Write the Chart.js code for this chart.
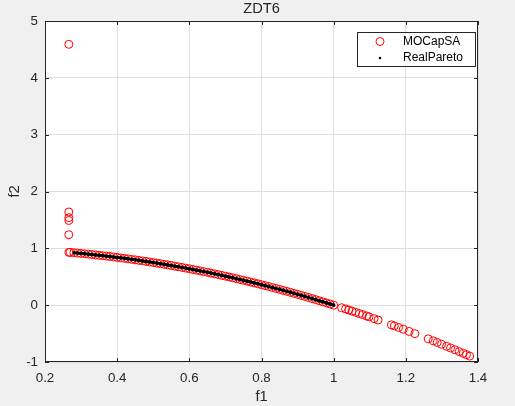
<!DOCTYPE html>
<html>
<head>
<meta charset="utf-8">
<script src="https://cdn.jsdelivr.net/npm/chart.js@4.4.1/dist/chart.umd.min.js"></script>
<style>
  html, body { margin: 0; padding: 0; background: #f0f0f0; }
  #wrap { width: 515px; height: 406px; }
</style>
</head>
<body>
<div id="wrap"><canvas id="myChart" width="515" height="406"></canvas></div>
<script>
// values

// MOCapSA : stragglers at the left edge
const outF1 = [0.266, 0.266, 0.266, 0.266, 0.266];
const outF2 = [4.59, 1.64, 1.54, 1.49, 1.24];

// MOCapSA : points sitting on the front
const frontF1 = [0.266, 0.27, 0.28, 0.29, 0.30, 0.31, 0.32, 0.33, 0.34, 0.35, 0.36, 0.37, 0.38, 0.39,
  0.40, 0.41, 0.42, 0.43, 0.44, 0.45, 0.46, 0.47, 0.48, 0.49, 0.50, 0.51, 0.52, 0.53, 0.54, 0.55,
  0.56, 0.57, 0.58, 0.59, 0.60, 0.61, 0.62, 0.63, 0.64, 0.65, 0.66, 0.67, 0.68, 0.69, 0.70, 0.71,
  0.72, 0.73, 0.74, 0.75, 0.76, 0.77, 0.78, 0.79, 0.80, 0.81, 0.82, 0.83, 0.84, 0.85, 0.86, 0.87,
  0.88, 0.89, 0.90, 0.91, 0.92, 0.93, 0.94, 0.95, 0.96, 0.97, 0.98, 0.99];
const frontF2 = [0.929, 0.927, 0.922, 0.916, 0.910, 0.904, 0.898, 0.891, 0.884, 0.878, 0.870, 0.863, 0.856, 0.848,
  0.840, 0.832, 0.824, 0.815, 0.806, 0.798, 0.788, 0.779, 0.770, 0.760, 0.750, 0.740, 0.730, 0.719, 0.708, 0.698,
  0.686, 0.675, 0.664, 0.652, 0.640, 0.628, 0.616, 0.603, 0.590, 0.578, 0.564, 0.551, 0.538, 0.524, 0.510, 0.496,
  0.482, 0.467, 0.452, 0.438, 0.422, 0.407, 0.392, 0.376, 0.360, 0.344, 0.328, 0.311, 0.294, 0.278, 0.260, 0.243,
  0.226, 0.208, 0.190, 0.172, 0.154, 0.135, 0.116, 0.098, 0.078, 0.059, 0.040, 0.020];

// MOCapSA : tail past f1 = 1
const tailF1 = [1.0, 1.022, 1.033, 1.042, 1.051, 1.061, 1.071, 1.080, 1.091, 1.098, 1.112, 1.123, 1.160, 1.168,
  1.180, 1.193, 1.209, 1.225, 1.262, 1.276, 1.287, 1.299, 1.313, 1.324, 1.336, 1.348, 1.359, 1.368, 1.377];
const tailF2 = [0.0, -0.045, -0.067, -0.086, -0.105, -0.126, -0.147, -0.166, -0.190, -0.206, -0.237, -0.261, -0.346, -0.364,
  -0.392, -0.423, -0.462, -0.501, -0.593, -0.628, -0.656, -0.687, -0.724, -0.753, -0.785, -0.817, -0.847, -0.871, -0.896];

// RealPareto
const paretoF1 = [0.281, 0.29, 0.30, 0.31, 0.32, 0.33, 0.34, 0.35, 0.36, 0.37, 0.38, 0.39,
  0.40, 0.41, 0.42, 0.43, 0.44, 0.45, 0.46, 0.47, 0.48, 0.49, 0.50, 0.51, 0.52, 0.53, 0.54, 0.55,
  0.56, 0.57, 0.58, 0.59, 0.60, 0.61, 0.62, 0.63, 0.64, 0.65, 0.66, 0.67, 0.68, 0.69, 0.70, 0.71,
  0.72, 0.73, 0.74, 0.75, 0.76, 0.77, 0.78, 0.79, 0.80, 0.81, 0.82, 0.83, 0.84, 0.85, 0.86, 0.87,
  0.88, 0.89, 0.90, 0.91, 0.92, 0.93, 0.94, 0.95, 0.96, 0.97, 0.98, 0.99, 1.0];
const paretoF2 = [0.921, 0.916, 0.910, 0.904, 0.898, 0.891, 0.884, 0.878, 0.870, 0.863, 0.856, 0.848,
  0.840, 0.832, 0.824, 0.815, 0.806, 0.798, 0.788, 0.779, 0.770, 0.760, 0.750, 0.740, 0.730, 0.719, 0.708, 0.698,
  0.686, 0.675, 0.664, 0.652, 0.640, 0.628, 0.616, 0.603, 0.590, 0.578, 0.564, 0.551, 0.538, 0.524, 0.510, 0.496,
  0.482, 0.467, 0.452, 0.438, 0.422, 0.407, 0.392, 0.376, 0.360, 0.344, 0.328, 0.311, 0.294, 0.278, 0.260, 0.243,
  0.226, 0.208, 0.190, 0.172, 0.154, 0.135, 0.116, 0.098, 0.078, 0.059, 0.040, 0.020, 0.0];

const xTicks = [0.2, 0.4, 0.6, 0.8, 1.0, 1.2, 1.4];
const yTicks = [-1, 0, 1, 2, 3, 4, 5];
const legendNames = ['MOCapSA', 'RealPareto'];

const toPoints = (xs, ys) => xs.map((x, i) => ({ x: x, y: ys[i] }));

const mocapPoints = toPoints(outF1.concat(frontF1, tailF1), outF2.concat(frontF2, tailF2));
const paretoPoints = toPoints(paretoF1, paretoF2);

const FONT = "'Liberation Sans', Arial, Helvetica, sans-serif";
const AXIS = '#262626';

// white axes background, box, inward ticks, legend box
const matlabAxes = {
  id: 'matlabAxes',
  beforeDraw(chart) {
    const a = chart.chartArea;
    const ctx = chart.ctx;
    ctx.save();
    ctx.fillStyle = '#ffffff';
    ctx.fillRect(a.left, a.top, a.right - a.left, a.bottom - a.top);
    ctx.restore();
  },
  afterDatasetsDraw(chart) {
    const a = chart.chartArea;
    const ctx = chart.ctx;
    const xs = chart.scales.x, ys = chart.scales.y;
    ctx.save();
    ctx.strokeStyle = AXIS;
    ctx.lineWidth = 1;
    ctx.beginPath();
    xTicks.forEach(v => {
      const px = Math.round(xs.getPixelForValue(v)) + 0.5;
      ctx.moveTo(px, a.bottom); ctx.lineTo(px, a.bottom - 4);
      ctx.moveTo(px, a.top); ctx.lineTo(px, a.top + 4);
    });
    yTicks.forEach(v => {
      const py = Math.round(ys.getPixelForValue(v)) + 0.5;
      ctx.moveTo(a.left, py); ctx.lineTo(a.left + 4, py);
      ctx.moveTo(a.right, py); ctx.lineTo(a.right - 4, py);
    });
    ctx.stroke();
    ctx.strokeRect(Math.round(a.left) + 0.5, Math.round(a.top) + 0.5,
      Math.round(a.right - a.left) - 1, Math.round(a.bottom - a.top) - 1);

    // legend (north east)
    const bx = 357.5, by = 32.5, bw = 118, bh = 34;
    ctx.fillStyle = '#ffffff';
    ctx.fillRect(bx, by, bw, bh);
    ctx.strokeStyle = AXIS;
    ctx.strokeRect(bx, by, bw, bh);
    ctx.strokeStyle = '#ff0000';
    ctx.beginPath();
    ctx.arc(380, 41.5, 4, 0, Math.PI * 2);
    ctx.stroke();
    ctx.fillStyle = '#000000';
    ctx.beginPath();
    ctx.arc(380, 58, 1.3, 0, Math.PI * 2);
    ctx.fill();
    ctx.fillStyle = '#000000';
    ctx.font = '12px ' + FONT;
    ctx.textBaseline = 'middle';
    ctx.textAlign = 'left';
    ctx.fillText(legendNames[0], 403, 42);
    ctx.fillText(legendNames[1], 403, 58);
    ctx.restore();
  }
};

const ctx = document.getElementById('myChart');

const data = {
  datasets: [
    {
      label: legendNames[0],
      data: mocapPoints,
      borderColor: '#ff0000',
      backgroundColor: 'rgba(0,0,0,0)',
      pointStyle: 'circle',
      pointRadius: 4,
      pointBorderWidth: 1,
      showLine: false,
      order: 2
    },
    {
      label: legendNames[1],
      data: paretoPoints,
      borderColor: '#000000',
      backgroundColor: '#000000',
      pointRadius: 1.8,
      pointBorderWidth: 0,
      showLine: true,
      borderWidth: 3,
      order: 1
    }
  ]
};

const config = {
  type: 'scatter',
  data: data,
  options: {
    responsive: false,
    animation: false,
    events: [],
    layout: { padding: { top: 0, left: 0, right: 37, bottom: 0 } },
    plugins: {
      legend: { display: false },
      tooltip: { enabled: false },
      title: {
        display: true,
        text: 'ZDT6',
        fullSize: false,
        color: AXIS,
        font: { family: FONT, size: 14.67, weight: 'normal' },
        padding: { top: 0, bottom: 3.4 }
      }
    },
    scales: {
      x: {
        type: 'linear',
        min: 0.2,
        max: 1.4,
        afterFit: s => { s.height = 44; },
        afterBuildTicks: s => { s.ticks = xTicks.map(v => ({ value: v })); },
        ticks: {
          color: AXIS,
          font: { family: FONT, size: 13.33 },
          padding: 8,
          maxRotation: 0,
          callback: v => String(Number(v.toFixed(1)))
        },
        grid: { color: '#dfdfdf', drawTicks: false },
        border: { display: false },
        title: {
          display: true,
          text: 'f1',
          color: AXIS,
          font: { family: FONT, size: 14.67 },
          padding: { top: 0, bottom: 0 }
        }
      },
      y: {
        type: 'linear',
        min: -1,
        max: 5,
        afterFit: s => { s.width = 45; },
        afterBuildTicks: s => { s.ticks = yTicks.map(v => ({ value: v })); },
        ticks: {
          color: AXIS,
          font: { family: FONT, size: 13.33 },
          padding: 7,
          callback: v => String(v)
        },
        grid: { color: '#dfdfdf', drawTicks: false },
        border: { display: false },
        title: {
          display: true,
          text: 'f2',
          color: AXIS,
          font: { family: FONT, size: 14.67 },
          padding: { top: 6, bottom: 0 }
        }
      }
    }
  },
  plugins: [matlabAxes]
};

const myChart = new Chart(ctx, config);
</script>
</body>
</html>
